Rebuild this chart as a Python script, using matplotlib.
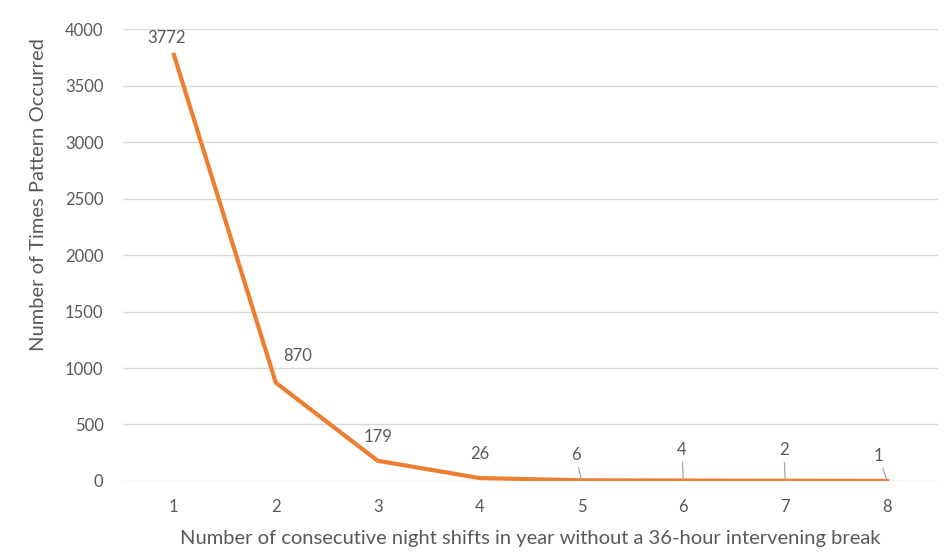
import matplotlib.pyplot as plt

# data
shifts = [1, 2, 3, 4, 5, 6, 7, 8]
occurrences = [3772, 870, 179, 26, 6, 4, 2, 1]
# label offsets (points) so the data labels sit like the original
label_dx = [-5, 16, 0, 0, -4, -1, -1, -6]
label_dy = [12, 19, 17, 17, 18, 22, 22, 18]
leader = [False, False, False, False, True, True, True, True]

grey = "#595959"
orange = "#ED7D31"

plt.rcParams['font.family'] = ['Lato', 'DejaVu Sans']

fig = plt.figure(figsize=(9.48, 5.58), dpi=100)
ax = fig.add_axes([0.1297, 0.138, 0.8598, 0.81])

ax.plot(shifts, occurrences, color=orange, linewidth=3, solid_joinstyle='round')

for x, y, dx, dy, lead in zip(shifts, occurrences, label_dx, label_dy, leader):
    arrow = None
    if lead:
        arrow = dict(arrowstyle='-', color='#A6A6A6', linewidth=0.9,
                     shrinkA=1, shrinkB=0)
    ax.annotate(str(y), xy=(x, y), xytext=(dx, dy), textcoords='offset points',
                ha='center', va='center', fontsize=12, color=grey,
                arrowprops=arrow)

ax.set_xlim(0.5, 8.5)
ax.set_ylim(0, 4000)
ax.set_yticks(range(0, 4001, 500))
ax.set_xticks(shifts)
ax.grid(axis='y', color='#D9D9D9', linewidth=1)
ax.set_axisbelow(True)
for s in ax.spines.values():
    s.set_visible(False)
ax.tick_params(axis='both', length=0, labelsize=12, labelcolor=grey)
ax.tick_params(axis='y', pad=14)
ax.tick_params(axis='x', pad=13)

ax.set_xlabel("Number of consecutive night shifts in year without a 36-hour intervening break",
              fontsize=14.5, color=grey)
ax.set_ylabel("Number of Times Pattern Occurred", fontsize=14.5, color=grey)
ax.yaxis.set_label_coords(-0.093, 0.633)
ax.xaxis.set_label_coords(0.5, -0.108)

fig.savefig("out.png", dpi=100)
